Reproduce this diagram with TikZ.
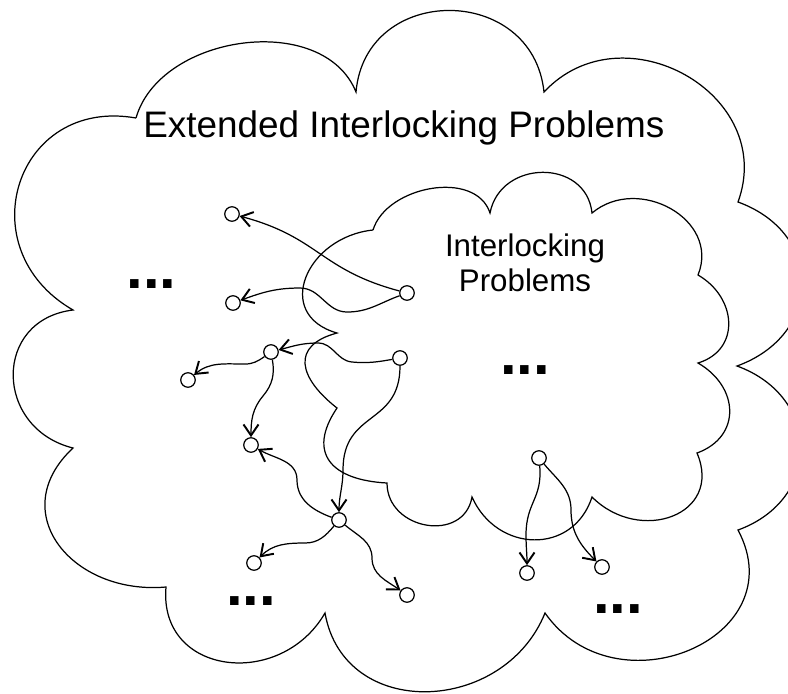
\documentclass[tikz,border=0pt]{standalone}
\usepackage{fontspec}
\setmainfont{Liberation Sans}
\usepackage{tikz}
\usetikzlibrary{arrows.meta}

\begin{document}
\begin{tikzpicture}[
  x=0.2mm, y=0.2mm,
  >={Straight Barb[length=2.2mm,width=3mm,line width=1.1pt]},
  cloudline/.style={draw=black, line width=0.7pt},
  dot/.style={circle, draw=black, fill=white, line width=0.7pt, minimum size=2.9mm, inner sep=0pt},
  link/.style={->, line width=0.7pt},
  heading/.style={font=\fontsize{21}{25}\selectfont, inner sep=0pt, anchor=base},
  subheading/.style={font=\fontsize{17.8}{19.9}\selectfont, inner sep=0pt, align=center},
  more/.style={font=\fontsize{34}{34}\selectfont\bfseries, inner sep=0pt, anchor=base}
]
  \useasboundingbox (0,0) rectangle (788,-693);
  \clip (0,0) rectangle (788,-693);

  % outer cloud
  \draw[cloudline] (136,-118)
    to[out=74,in=112,looseness=1.01] (356,-92)
    to[out=85,in=96,looseness=1.49] (544,-92)
    to[out=47,in=70,looseness=1.32] (738,-202)
    to[out=-20,in=20,looseness=1.43] (737,-366)
    to[out=-20,in=20,looseness=1.4] (738,-530)
    to[out=-62,in=-55,looseness=1.5] (545,-613)
    to[out=-112,in=-80,looseness=1.28] (325,-613)
    to[out=-120,in=-95,looseness=1.41] (166,-587)
    to[out=185,in=223,looseness=1.44] (73,-448)
    to[out=166,in=187,looseness=1.51] (73,-310)
    to[out=150,in=170,looseness=1.55] (136,-118);

  % inner cloud
  \draw[cloudline] (373,-230)
    to[out=73,in=108,looseness=1.0] (490,-213)
    to[out=79,in=96,looseness=1.38] (592,-213)
    to[out=40,in=68,looseness=1.25] (698,-275)
    to[out=-30,in=17,looseness=1.31] (698,-363)
    to[out=-30,in=20,looseness=1.35] (697,-453)
    to[out=-67,in=-45,looseness=1.52] (592,-497)
    to[out=-108,in=-66,looseness=1.31] (472,-497)
    to[out=-100,in=-90,looseness=1.4] (387,-483)
    to[out=177,in=236,looseness=1.56] (337,-408)
    to[out=142,in=195,looseness=1.66] (337,-333)
    to[out=164,in=186,looseness=1.57] (373,-230);

  \node[heading] (ext) at (403.8,-137) {Extended Interlocking Problems};
  \node[subheading, anchor=base] (inl) at (525,-291) {Interlocking\\Problems};

  \node[more] (m1) at (151.5,-288) {...};
  \node[more] (m2) at (525,-374) {...};
  \node[more] (m3) at (251,-605) {...};
  \node[more] (m4) at (618,-613) {...};

  % problems
  \node[dot] (s1) at (407,-293) {};
  \node[dot] (a1) at (232,-214) {};
  \node[dot] (a2) at (233,-303) {};
  \node[dot] (s2) at (400,-358) {};
  \node[dot] (b1) at (271,-352) {};
  \node[dot] (b2) at (188,-380) {};
  \node[dot] (b3) at (251,-445) {};
  \node[dot] (c) at (339,-520) {};
  \node[dot] (d1) at (254,-563) {};
  \node[dot] (d2) at (407,-595) {};
  \node[dot] (s3) at (539,-458) {};
  \node[dot] (e1) at (527,-573) {};
  \node[dot] (e2) at (602,-567) {};

  % reductions
  \draw[link] (s1) to[out=165,in=-15,looseness=1.2] (a1);
  \draw[link] (s1) to[out=200,in=0] (347,-312) to[out=180,in=0] (300,-288) to[out=180,in=20] (a2);
  \draw[link] (s2) to[out=190,in=-5] (352,-362) to[out=175,in=0] (318,-343) to[out=180,in=15] (b1);
  \draw[link] (b1) to[out=215,in=0] (245,-364) to[out=180,in=40] (b2);
  \draw[link] (b1) to[out=-80,in=50] (263,-396) to[out=-130,in=90] (b3);
  \draw[link] (s2) to[out=-90,in=90,looseness=1.3] (343,-470) to[out=-90,in=90] (c);
  \draw[link] (c) to[out=160,in=-90] (297,-480) to[out=90,in=-30] (b3);
  \draw[link] (c) to[out=-130,in=0] (305,-543) to[out=180,in=45] (d1);
  \draw[link] (c) to[out=-40,in=90] (372,-558) to[out=-90,in=145] (d2);
  \draw[link] (s3) to[out=-85,in=90,looseness=1.2] (526,-535) to[out=-90,in=90] (e1);
  \draw[link] (s3) to[out=-50,in=90] (571,-510) to[out=-90,in=135] (e2);
\end{tikzpicture}
\end{document}
